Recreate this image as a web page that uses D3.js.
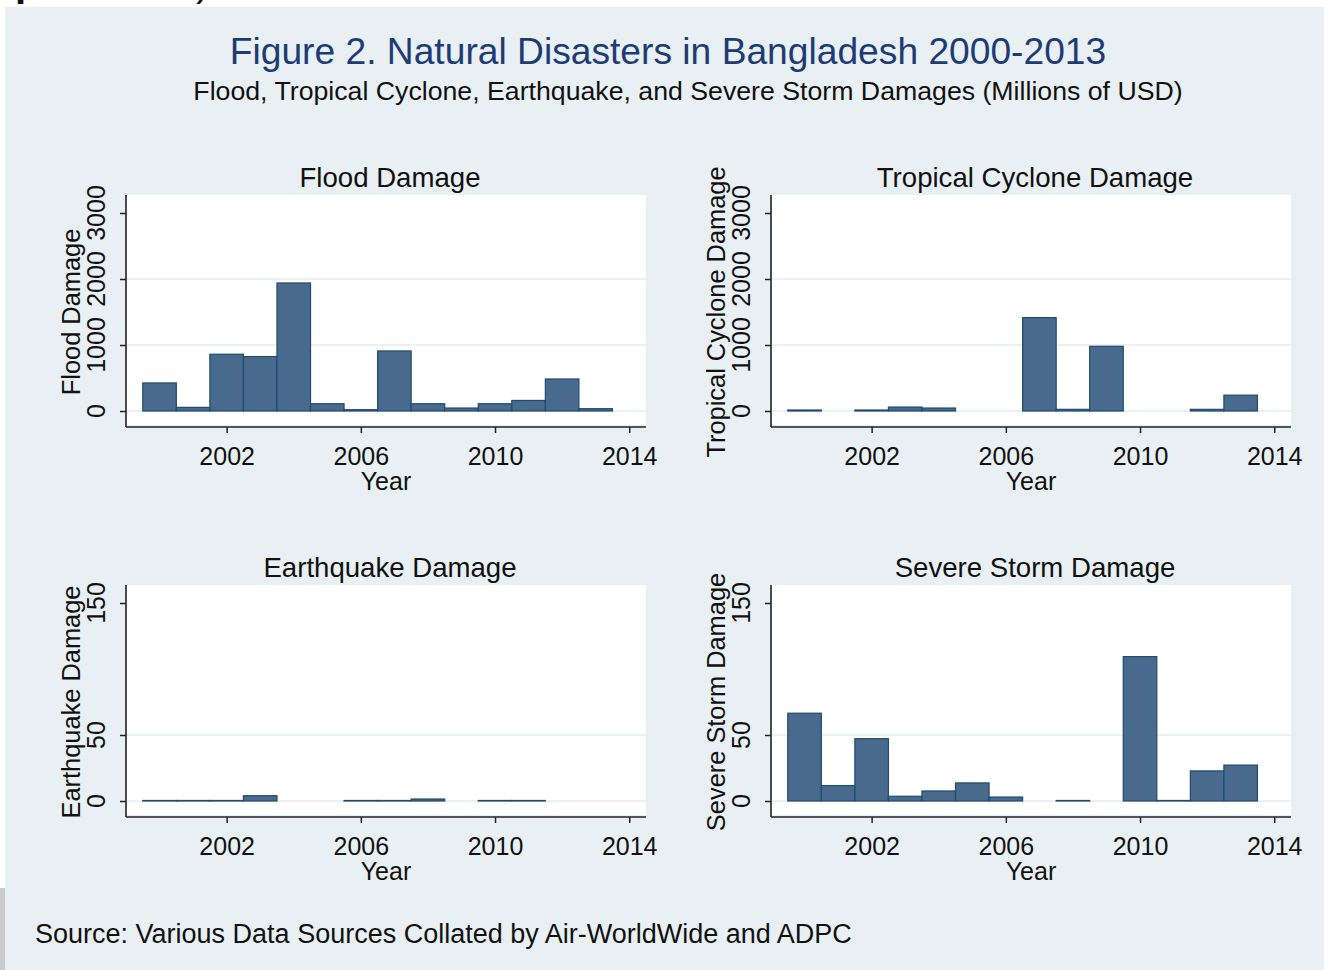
<!DOCTYPE html>
<html>
<head>
<meta charset="utf-8">
<script src="https://cdn.jsdelivr.net/npm/d3@7"></script>
<style>
  html, body { margin: 0; padding: 0; background: #ffffff; }
  svg { display: block; font-family: "Liberation Sans", Arial, sans-serif; }
</style>
</head>
<body>
<svg id="chart" width="1324" height="970"></svg>
<script>
// Damages by year, millions of USD (null = no recorded event)
const years = [2000, 2001, 2002, 2003, 2004, 2005, 2006, 2007, 2008, 2009, 2010, 2011, 2012, 2013];
const floodDamage   = [425, 55, 860, 825, 1940, 110, 20, 910, 110, 45, 110, 160, 485, 35];
const cycloneDamage = [15, null, 15, 60, 45, null, null, 1415, 25, 980, null, null, 25, 240];
const quakeDamage   = [0.4, 0.4, 0.4, 4, null, null, 0.4, 0.4, 1.5, null, 0.4, 0.4, null, null];
const stormDamage   = [66.5, 11.7, 47.2, 3.6, 7.6, 13.7, 3.0, null, 0.4, null, 109.4, 0.4, 22.8, 27.2];

const xTickLabels = [2002, 2006, 2010, 2014];
const bigTicks = [0, 1000, 2000, 3000];
const smallTicks = [0, 50, 150];

const titleText = "Figure 2. Natural Disasters in Bangladesh 2000-2013";
const subtitleText = "Flood, Tropical Cyclone, Earthquake, and Severe Storm Damages (Millions of USD)";
const sourceText = "Source: Various Data Sources Collated by Air-WorldWide and ADPC";

const panels = [
  { title: "Flood Damage", yLabel: "Flood Damage", values: floodDamage, ticks: bigTicks, left: 126, top: 195 },
  { title: "Tropical Cyclone Damage", yLabel: "Tropical Cyclone Damage", values: cycloneDamage, ticks: bigTicks, left: 771, top: 195 },
  { title: "Earthquake Damage", yLabel: "Earthquake Damage", values: quakeDamage, ticks: smallTicks, left: 126, top: 585 },
  { title: "Severe Storm Damage", yLabel: "Severe Storm Damage", values: stormDamage, ticks: smallTicks, left: 771, top: 585 }
];

const W = 520, H = 232;
const barFill = "#486a8c", barStroke = "#1f4a72";
const bg = "#e8f0f3";

const svg = d3.select("#chart");

// page background and graph region
svg.append("rect").attr("x", 0).attr("y", 0).attr("width", 1324).attr("height", 970).attr("fill", "#ffffff");
svg.append("rect").attr("x", 0).attr("y", 888).attr("width", 5).attr("height", 82).attr("fill", "#c9cbcc");
svg.append("rect").attr("x", 5).attr("y", 7).attr("width", 1319).attr("height", 963).attr("fill", bg);

// fragments of the running text above the figure
svg.append("text").attr("x", 15).attr("y", -4).attr("font-size", 40).attr("font-weight", "bold").attr("fill", "#111").text("p");
svg.append("text").attr("x", 196).attr("y", -4).attr("font-size", 40).attr("fill", "#111").text(")");

svg.append("text").attr("x", 668).attr("y", 64).attr("text-anchor", "middle")
  .attr("font-size", 37.2).attr("fill", "#1e3b75").text(titleText);
svg.append("text").attr("x", 688).attr("y", 100).attr("text-anchor", "middle")
  .attr("font-size", 26.7).attr("fill", "#111").text(subtitleText);

const x = d3.scaleLinear().domain([1999, 2014.5]).range([0, W]);

panels.forEach(p => {
  const g = svg.append("g").attr("transform", `translate(${p.left},${p.top})`);
  const topTick = p.ticks[p.ticks.length - 1];
  const y = d3.scaleLinear().domain([0, topTick]).range([H - 16, 18]);

  // plot region
  g.append("rect").attr("x", 1).attr("y", 0).attr("width", W - 1).attr("height", H - 2).attr("fill", "#ffffff");

  // grid lines (not at the top tick)
  g.selectAll("line.grid").data(p.ticks.filter(t => t !== topTick)).enter().append("line")
    .attr("x1", 1).attr("x2", W).attr("y1", d => y(d)).attr("y2", d => y(d))
    .attr("stroke", "#eaf1f3").attr("stroke-width", 2.2);

  // bars, one year wide, centred on the year
  const rows = years.map((yr, i) => ({ yr, v: p.values[i] })).filter(d => d.v !== null);
  g.selectAll("rect.bar").data(rows).enter().append("rect")
    .attr("x", d => x(d.yr - 0.5))
    .attr("width", d => x(d.yr + 0.5) - x(d.yr - 0.5))
    .attr("y", d => y(d.v))
    .attr("height", d => y(0) - y(d.v))
    .attr("fill", barFill).attr("stroke", barStroke).attr("stroke-width", 1.2);

  // y axis
  const yAxis = g.append("g").call(d3.axisLeft(y).tickValues(p.ticks).tickSize(6).tickFormat(d3.format("d")));
  yAxis.select(".domain").remove();
  yAxis.selectAll(".tick line").attr("stroke", "#222").attr("stroke-width", 1.5);
  yAxis.selectAll(".tick text").remove();
  g.append("line").attr("x1", 0).attr("x2", 0).attr("y1", 0).attr("y2", H).attr("stroke", "#222").attr("stroke-width", 1.6);
  g.selectAll("text.ytick").data(p.ticks).enter().append("text")
    .attr("transform", d => `translate(-21,${y(d)}) rotate(-90)`)
    .attr("text-anchor", "middle").attr("font-size", 25).attr("fill", "#111")
    .text(d => d3.format("d")(d));
  g.append("text")
    .attr("transform", `translate(-46,${y(topTick / 2)}) rotate(-90)`)
    .attr("text-anchor", "middle").attr("font-size", 25.4).attr("fill", "#111").text(p.yLabel);

  // x axis
  const xAxis = g.append("g").attr("transform", `translate(0,${H})`)
    .call(d3.axisBottom(x).tickValues(xTickLabels).tickSize(6).tickFormat(d3.format("d")));
  xAxis.select(".domain").remove();
  xAxis.selectAll(".tick line").attr("stroke", "#222").attr("stroke-width", 1.5);
  xAxis.selectAll(".tick text").attr("font-size", 25).attr("fill", "#111")
    .attr("font-family", "Liberation Sans, Arial, sans-serif").attr("dy", null).attr("y", 38);
  g.append("line").attr("x1", 0).attr("x2", W).attr("y1", H).attr("y2", H).attr("stroke", "#222").attr("stroke-width", 1.6);
  g.append("text").attr("x", W / 2).attr("y", H + 63).attr("text-anchor", "middle")
    .attr("font-size", 25).attr("fill", "#111").text("Year");

  // panel title
  g.append("text").attr("x", W / 2 + 4).attr("y", -8).attr("text-anchor", "middle")
    .attr("font-size", 27.6).attr("fill", "#111").text(p.title);
});

svg.append("text").attr("x", 35).attr("y", 943).attr("font-size", 27).attr("fill", "#111").text(sourceText);
</script>
</body>
</html>
